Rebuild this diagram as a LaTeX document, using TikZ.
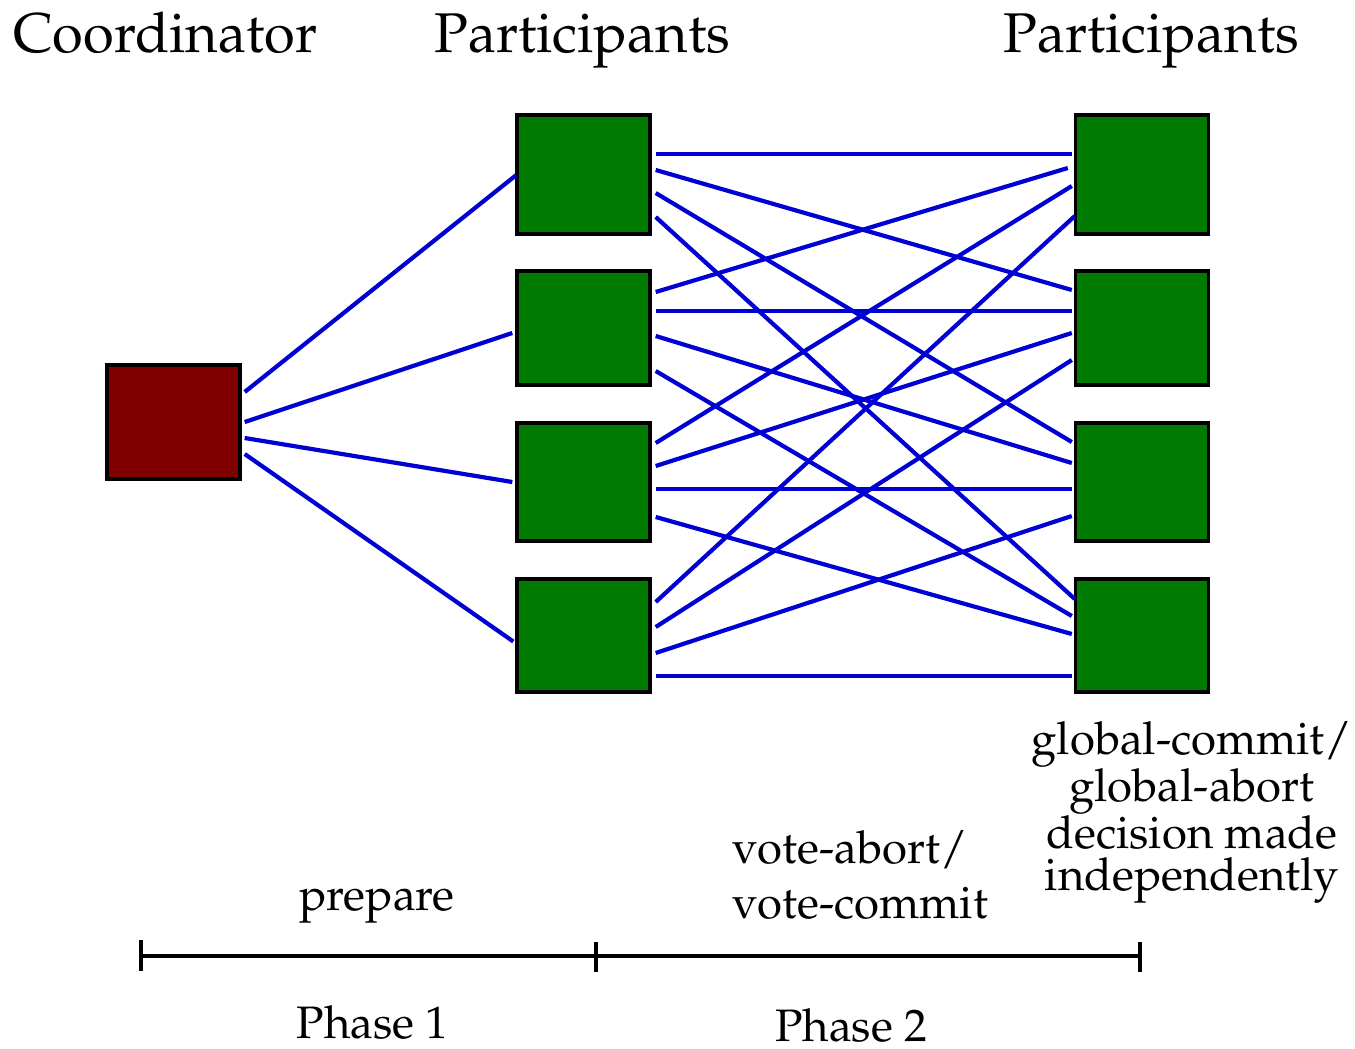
\documentclass[tikz,border=0pt]{standalone}
\usepackage[T1]{fontenc}
\usepackage{mathpazo}
\usetikzlibrary{calc}
\definecolor{coordred}{RGB}{128,0,0}
\definecolor{partgreen}{RGB}{0,122,0}
\definecolor{msgblue}{RGB}{0,0,210}
% message line: from (left node, vertical offset) to (right node, x offset, vertical offset)
\newcommand\msgline[5]{\draw[msg] ($(#1.east)+(4,#2)$) -- ($(#3.west)+(#4,#5)$);}
\begin{document}
\begin{tikzpicture}[x=1pt,y=-1pt,
  box/.style={draw=black,line width=3.4pt,inner sep=0pt,minimum width=133pt},
  coordbox/.style={box,fill=coordred,minimum height=114pt},
  partbox/.style={box,fill=partgreen},
  msg/.style={draw=msgblue,line width=4.2pt},
  bigtext/.style={font=\fontsize{56}{67}\selectfont,inner sep=0pt},
  labeltext/.style={font=\fontsize{45.5}{55}\selectfont,inner sep=0pt},
  axisline/.style={draw=black,line width=3.4pt}]
\useasboundingbox (0,0) rectangle (1355,1049);

% headings
\node[bigtext,anchor=base west] (tcoord) at (13,53) {Coordinator};
\node[bigtext,anchor=base west] (tpartL) at (434,53) {Participants};
\node[bigtext,anchor=base west] (tpartR) at (1003,53) {Participants};

% coordinator and participants
\node[coordbox] (C) at (173.5,422) {};
\node[partbox,minimum height=119pt] (L1) at (583.5,174.5) {};
\node[partbox,minimum height=114pt] (L2) at (583.5,328) {};
\node[partbox,minimum height=118pt] (L3) at (583.5,482) {};
\node[partbox,minimum height=113pt] (L4) at (583.5,635.5) {};
\node[partbox,minimum height=119pt] (R1) at (1142,174.5) {};
\node[partbox,minimum height=114pt] (R2) at (1142,328) {};
\node[partbox,minimum height=118pt] (R3) at (1142,482) {};
\node[partbox,minimum height=113pt] (R4) at (1142,635.5) {};

% prepare messages
\draw[msg] ($(C.east)+(3,-30)$) -- ($(L1.west)+(1,0.5)$);
\draw[msg] ($(C.east)+(3,0)$) -- ($(L2.west)+(-3,5)$);
\draw[msg] ($(C.east)+(3,16)$) -- ($(L3.west)+(-3,0)$);
\draw[msg] ($(C.east)+(3,32)$) -- ($(L4.west)+(-2,6)$);

% all-to-all votes
\msgline{L1}{-20.5}{R1}{-2}{-20.5}
\msgline{L1}{-4.5}{R2}{-2}{-38}
\msgline{L1}{18.5}{R3}{-2}{-40}
\msgline{L1}{42.5}{R4}{1}{-36.5}
\msgline{L2}{-36}{R1}{-6}{-6.5}
\msgline{L2}{-17}{R2}{-2}{-17}
\msgline{L2}{8}{R3}{-2}{-19}
\msgline{L2}{43}{R4}{-2}{-19.5}
\msgline{L3}{-39}{R1}{-2}{11.5}
\msgline{L3}{-16}{R2}{-2}{5}
\msgline{L3}{7}{R3}{-2}{7}
\msgline{L3}{35}{R4}{-2}{-1.5}
\msgline{L4}{-33.5}{R1}{1}{41.5}
\msgline{L4}{-8.5}{R2}{-2}{32}
\msgline{L4}{17.5}{R3}{-2}{34}
\msgline{L4}{40.5}{R4}{-2}{40.5}

% message labels (base anchor of a multi-line node is the last line's baseline)
\node[labeltext,anchor=base] (tprep) at (377,910) {prepare};
\node[labeltext,anchor=base west,align=left] (tvote) at (732,918) {vote-abort/\\vote-commit};
\node[labeltext,anchor=base,align=center,font=\fontsize{45.5}{42}\selectfont] (tdec) at (1192,890)
  {global-commit/\\global-abort\\decision made\\independently};

% phase timeline
\coordinate (T0) at (141,956);
\coordinate (T1) at (596,956);
\coordinate (T2) at (1140,956);
\draw[axisline] (T0) -- (T2);
\draw[axisline] ($(T0)+(0,-16)$) -- ($(T0)+(0,15)$);
\draw[axisline] ($(T1)+(0,-14)$) -- ($(T1)+(0,16)$);
\draw[axisline] ($(T2)+(0,-14)$) -- ($(T2)+(0,16)$);
\node[labeltext,anchor=base,text depth=0pt] (ph1) at (372.5,1038) {Phase 1};
\node[labeltext,anchor=base,text depth=0pt] (ph2) at (851,1041) {Phase 2};
\end{tikzpicture}
\end{document}
